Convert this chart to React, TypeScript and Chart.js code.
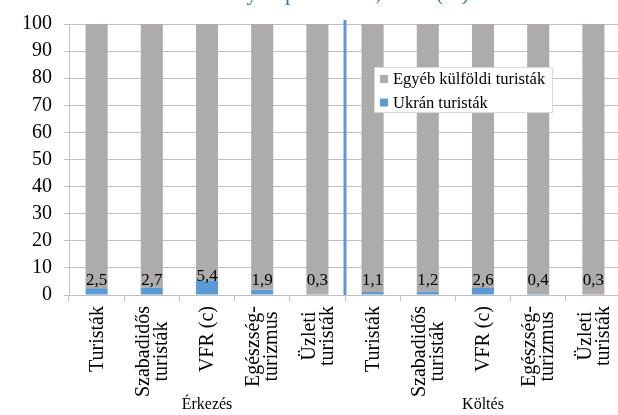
import React, { useEffect, useRef } from "react";
import { Chart, registerables } from "chart.js";

Chart.register(...registerables);

const categories: string[][] = [
  ["Turisták"],
  ["Szabadidős", "turisták"],
  ["VFR (c)"],
  ["Egészség-", "turizmus"],
  ["Üzleti", "turisták"],
  ["Turisták"],
  ["Szabadidős", "turisták"],
  ["VFR (c)"],
  ["Egészség-", "turizmus"],
  ["Üzleti", "turisták"],
];
const groupLabels = ["Érkezés", "Költés"];
const groupCenters = [2, 7];
const ukrainian = [2.5, 2.7, 5.4, 1.9, 0.3, 1.1, 1.2, 2.6, 0.4, 0.3];
const otherForeign = [97.5, 97.3, 94.6, 98.1, 99.7, 98.9, 98.8, 97.4, 99.6, 99.7];
const seriesNames = ["Ukrán turisták", "Egyéb külföldi turisták"];
const titleText = "Ukrán turisták aránya típusonként, 2019 (%)";

const BLUE = "#5B9BD5";
const GRAY = "#AEABAB";
const GRID = "#BFBFBF";
const FONT = '"Liberation Serif", "Times New Roman", serif';

const overlay = {
  id: "overlay",
  afterDatasetsDraw(chart: any) {
    const { ctx } = chart;
    const x = chart.scales.x;
    const y = chart.scales.y;
    ctx.save();
    // separator line between the two groups
    const sx = (x.getPixelForValue(4) + x.getPixelForValue(5)) / 2;
    ctx.strokeStyle = BLUE;
    ctx.lineWidth = 3;
    ctx.beginPath();
    ctx.moveTo(sx, y.getPixelForValue(101.5));
    ctx.lineTo(sx, y.bottom);
    ctx.stroke();
    // data labels
    ctx.font = `17px ${FONT}`;
    ctx.fillStyle = "#000";
    ctx.textAlign = "center";
    ctx.textBaseline = "middle";
    ukrainian.forEach((v, i) => {
      const px = x.getPixelForValue(i);
      const top = y.getPixelForValue(v);
      const cy = Math.min(top - 4, y.getPixelForValue(5.2));
      ctx.fillText(v.toFixed(1).replace(".", ","), px, cy);
    });
    ctx.restore();
  },
  afterDraw(chart: any) {
    const { ctx } = chart;
    const x = chart.scales.x;
    const y = chart.scales.y;
    ctx.save();
    // category labels (rotated, lines centred on each other)
    ctx.font = `20px ${FONT}`;
    ctx.fillStyle = "#000";
    ctx.textAlign = "center";
    ctx.textBaseline = "middle";
    const lh = 18;
    const topY = y.bottom + 11;
    categories.forEach((lines, i) => {
      const px = x.getPixelForValue(i);
      const L = Math.max(...lines.map((l) => ctx.measureText(l).width));
      const cy = topY + L / 2;
      lines.forEach((line, j) => {
        const lx = px + (j - (lines.length - 1) / 2) * lh;
        ctx.save();
        ctx.translate(lx, cy);
        ctx.rotate(-Math.PI / 2);
        ctx.fillText(line, 0, 1);
        ctx.restore();
      });
    });
    // group labels
    ctx.font = `16px ${FONT}`;
    groupLabels.forEach((g, i) => {
      ctx.fillText(g, x.getPixelForValue(groupCenters[i]), 405);
    });
    // legend
    const lx = 374, ly = 67, lw = 179, lhh = 46;
    ctx.fillStyle = "#fff";
    ctx.fillRect(lx, ly, lw, lhh);
    ctx.strokeStyle = "#D9D9D9";
    ctx.lineWidth = 1;
    ctx.strokeRect(lx + 0.5, ly + 0.5, lw - 1, lhh - 1);
    const items = [
      { name: seriesNames[1], color: GRAY },
      { name: seriesNames[0], color: BLUE },
    ];
    ctx.font = `16.5px ${FONT}`;
    ctx.textAlign = "left";
    items.forEach((it, k) => {
      const cy = ly + 12 + k * 23.5;
      ctx.fillStyle = it.color;
      ctx.fillRect(lx + 6, cy - 4, 8, 8);
      ctx.fillStyle = "#000";
      ctx.fillText(it.name, lx + 19, cy + 1);
    });
    // title (cut off at the top of the picture)
    ctx.font = `22px ${FONT}`;
    ctx.fillStyle = "#2E75B6";
    ctx.textAlign = "right";
    ctx.textBaseline = "alphabetic";
    ctx.fillText(titleText, 469, 0);
    ctx.restore();
  },
};

export default function App() {
  const ref = useRef<HTMLCanvasElement | null>(null);
  useEffect(() => {
    if (!ref.current) return;
    const chart = new Chart(ref.current, {
      type: "bar",
      data: {
        labels: categories.map((c) => c.join(" ")),
        datasets: [
          {
            label: seriesNames[0],
            data: ukrainian,
            backgroundColor: BLUE,
            barPercentage: 0.4,
            categoryPercentage: 1,
          },
          {
            label: seriesNames[1],
            data: otherForeign,
            backgroundColor: GRAY,
            barPercentage: 0.4,
            categoryPercentage: 1,
          },
        ],
      },
      options: {
        animation: false,
        responsive: false,
        maintainAspectRatio: false,
        layout: { padding: { left: 10, top: 22, right: 0, bottom: 114 } },
        plugins: {
          legend: { display: false },
          tooltip: { enabled: false },
          title: { display: false },
        },
        scales: {
          x: {
            stacked: true,
            grid: {
              display: true,
              drawOnChartArea: false,
              drawTicks: true,
              tickLength: 6,
              color: GRID,
              offset: true,
            },
            border: { color: GRID },
            ticks: { display: false },
          },
          y: {
            stacked: true,
            min: 0,
            max: 100,
            ticks: {
              stepSize: 10,
              font: { family: FONT, size: 20 },
              color: "#000",
              padding: 12,
            },
            grid: { color: GRID, tickLength: 5 },
            border: { color: GRID },
          },
        },
      },
      plugins: [overlay],
    });
    return () => chart.destroy();
  }, []);
  return (
    <div
      style={{
        position: "absolute",
        left: 0,
        top: 0,
        width: 618,
        height: 415,
        overflow: "hidden",
        background: "#fff",
      }}
    >
      <canvas ref={ref} width={621} height={415} style={{ display: "block" }} />
    </div>
  );
}
